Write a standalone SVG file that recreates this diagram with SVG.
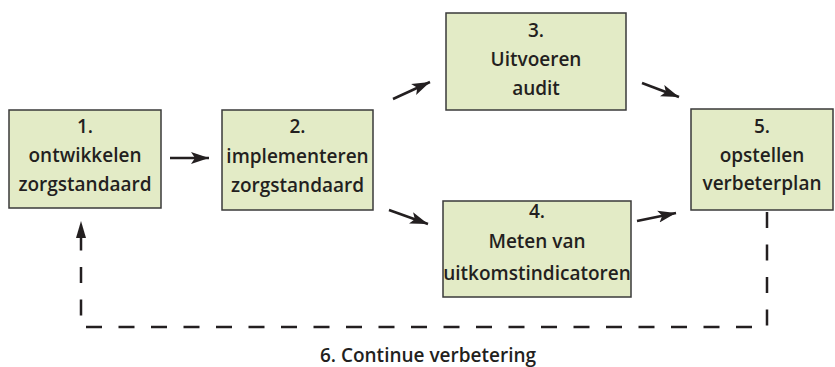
<svg xmlns="http://www.w3.org/2000/svg" width="835" height="367" viewBox="0 0 835 367">
<style>
.box{fill:#e3ebc6;stroke:#3a3a3a;stroke-width:1.5}
.t{font-family:"Open Sans","Liberation Sans",sans-serif;font-weight:600;font-size:19px;fill:#231f20;text-anchor:middle}
.lbl{font-family:"Open Sans","Liberation Sans",sans-serif;font-weight:600;font-size:19px;fill:#231f20;text-anchor:middle}
.arr{fill:none;stroke:#231f20;stroke-width:2.5;marker-end:url(#ah)}
.dash{fill:none;stroke:#231f20;stroke-width:2.5;stroke-dasharray:16 16.5}
</style>
<defs>
<marker id="ah" markerUnits="userSpaceOnUse" markerWidth="20" markerHeight="14" refX="18" refY="6" orient="auto" viewBox="0 0 20 12">
<path d="M0,0 L18,6 L0,12 L4,6 Z" fill="#231f20"/>
</marker>
</defs>
<g id="connectors">
<path class="arr" d="M170,158 L209,158"/>
<path class="arr" d="M393,99 L430,82"/>
<path class="arr" d="M389,210 L428,224"/>
<path class="arr" d="M642,83 L679,97"/>
<path class="arr" d="M637,221 L676,213"/>
<path class="dash" d="M767,212 L767,327 L81,327 L81,236"/>
<path d="M76,238 L81,221 L86,238 Z" fill="#231f20"/>
</g>
<g id="node1">
<rect class="box" x="9" y="110" width="152" height="98"/>
<text class="t" x="85" y="133">1.</text>
<text class="t" x="85" y="162">ontwikkelen</text>
<text class="t" x="85" y="191">zorgstandaard</text>
</g>
<g id="node2">
<rect class="box" x="222" y="110" width="151" height="100"/>
<text class="t" x="297.5" y="133">2.</text>
<text class="t" x="297.5" y="163">implementeren</text>
<text class="t" x="297.5" y="192">zorgstandaard</text>
</g>
<g id="node3">
<rect class="box" x="446" y="13" width="180" height="97"/>
<text class="t" x="536" y="37">3.</text>
<text class="t" x="536" y="66">Uitvoeren</text>
<text class="t" x="536" y="95">audit</text>
</g>
<g id="node4">
<rect class="box" x="443" y="201" width="188" height="96"/>
<text class="t" x="537" y="218">4.</text>
<text class="t" x="537" y="248">Meten van</text>
<text class="t" x="537" y="280">uitkomstindicatoren</text>
</g>
<g id="node5">
<rect class="box" x="691" y="109" width="142" height="101"/>
<text class="t" x="762" y="133">5.</text>
<text class="t" x="762" y="162">opstellen</text>
<text class="t" x="762" y="190">verbeterplan</text>
</g>
<g id="label6">
<text class="lbl" x="428" y="362">6. Continue verbetering</text>
</g>
</svg>
